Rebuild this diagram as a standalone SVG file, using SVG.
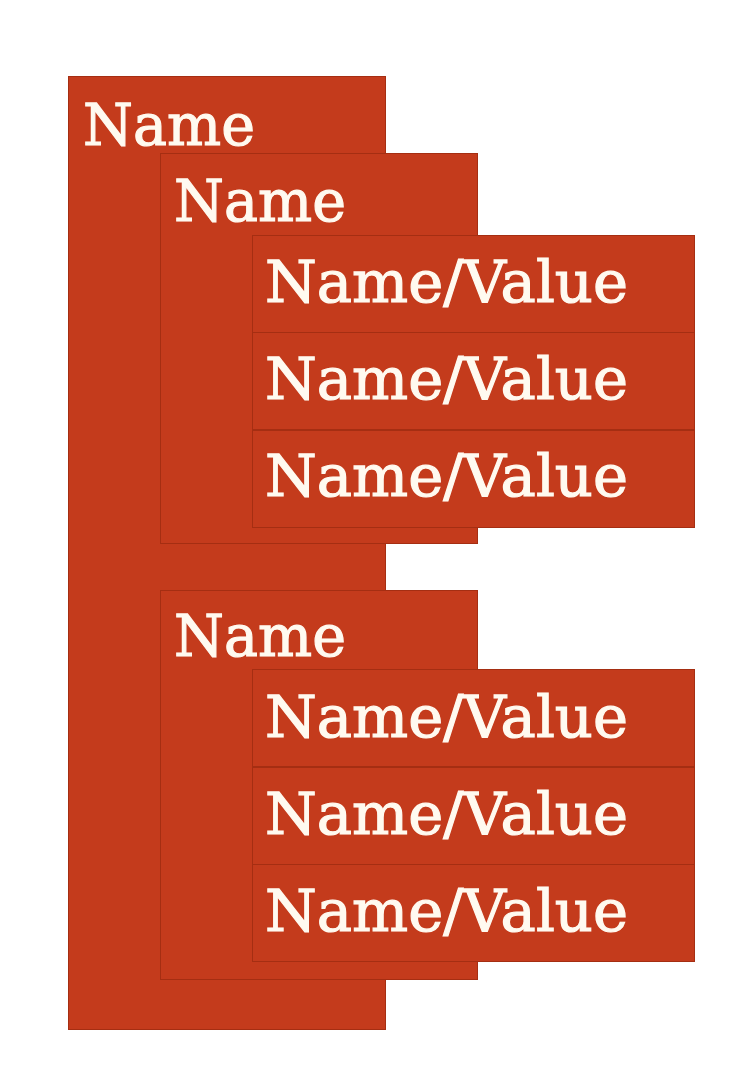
<svg xmlns="http://www.w3.org/2000/svg" width="754" height="1080" viewBox="0 0 754 1080">
<style>
.b{fill:#c43b1c;stroke:#a52e12;stroke-width:1}
.t{fill:#fffaf0;stroke:#fffaf0;stroke-width:1.2;font-family:"DejaVu Serif","Liberation Serif",serif;font-size:58px}
</style>
<rect width="754" height="1080" fill="#ffffff"/>
<g id="root"><rect class="b" x="68.5" y="76.5" width="317" height="953"/><text class="t" x="83" y="145" textLength="172" lengthAdjust="spacingAndGlyphs">Name</text></g>
<g id="obj1"><rect class="b" x="160.5" y="153.5" width="317" height="390"/><text class="t" x="174" y="221" textLength="172" lengthAdjust="spacingAndGlyphs">Name</text></g>
<g id="nv1"><rect class="b" x="252.5" y="235.5" width="442" height="97"/><text class="t" x="265" y="302" textLength="363" lengthAdjust="spacingAndGlyphs">Name/Value</text></g>
<g id="nv2"><rect class="b" x="252.5" y="332.5" width="442" height="97"/><text class="t" x="265" y="399" textLength="363" lengthAdjust="spacingAndGlyphs">Name/Value</text></g>
<g id="nv3"><rect class="b" x="252.5" y="430.5" width="442" height="97"/><text class="t" x="265" y="496" textLength="363" lengthAdjust="spacingAndGlyphs">Name/Value</text></g>
<g id="obj2"><rect class="b" x="160.5" y="590.5" width="317" height="389"/><text class="t" x="174" y="656" textLength="172" lengthAdjust="spacingAndGlyphs">Name</text></g>
<g id="nv4"><rect class="b" x="252.5" y="669.5" width="442" height="97"/><text class="t" x="265" y="737" textLength="363" lengthAdjust="spacingAndGlyphs">Name/Value</text></g>
<g id="nv5"><rect class="b" x="252.5" y="767.5" width="442" height="97"/><text class="t" x="265" y="834" textLength="363" lengthAdjust="spacingAndGlyphs">Name/Value</text></g>
<g id="nv6"><rect class="b" x="252.5" y="864.5" width="442" height="97"/><text class="t" x="265" y="931" textLength="363" lengthAdjust="spacingAndGlyphs">Name/Value</text></g>
<g id="connectors"></g>
</svg>
